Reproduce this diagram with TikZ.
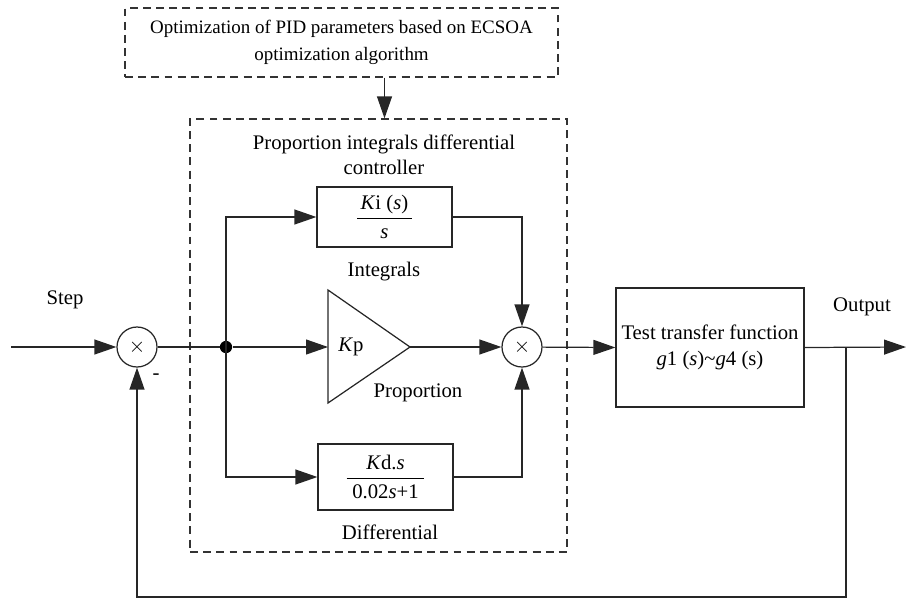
\documentclass[tikz,border=0pt]{standalone}
\usepackage{fontspec}
\setmainfont{Liberation Serif}
\usetikzlibrary{arrows.meta,positioning,calc}

\begin{document}
\begin{tikzpicture}[
			x=0.02cm, y=-0.02cm,
			font=\fontsize{11.8}{14.5}\selectfont,
			>={Triangle[length=12.5pt,width=8.5pt]},
			block/.style={
				rectangle, draw=black!85, line width=0.7pt,
				align=center, inner sep=2pt
			},
			frame/.style={
				rectangle, draw=black!80, line width=0.7pt,
				dash pattern=on 4.5pt off 3pt, inner sep=0pt
			},
			sumnode/.style={
				circle, draw=black!85, line width=0.7pt,
				minimum size=40*0.02cm, inner sep=0pt
			},
			dotnode/.style={circle, fill=black, minimum size=7pt, inner sep=0pt},
			arr/.style={->, line width=0.7pt, black!85},
			ln/.style={line width=0.7pt, black!85},
			lbl/.style={align=center, inner sep=0pt}
			]
			\useasboundingbox (0,0) rectangle (906,599);
			
			%% ── Optimizer on top ─────────────────────────────────────────────
			\node[frame, minimum width=433*0.02cm, minimum height=69*0.02cm, align=center,
				font=\fontsize{10.8}{15}\selectfont] (opt) at (341.5, 42.5) {
				Optimization of PID parameters based on ECSOA\\
				optimization algorithm
			};
			
			%% ── PID controller frame ────────────────────────────────────────
			\node[frame, minimum width=377*0.02cm, minimum height=433*0.02cm] (pid) at (378.5, 335.5) {};
			\node[lbl] (pidtitle) at (384, 155) {
				Proportion integrals differential\\
				controller
			};
			
			\node[block, minimum width=135*0.02cm, minimum height=60*0.02cm] (ki) at (384.5, 217)
				{$\displaystyle\frac{\mbox{\,\textit{K}i (\textit{s})\,}}{\mbox{\textit{s}}}$};
			\node[lbl] (integ) at (384, 272) {Integrals};
			
			% gain triangle
			\coordinate (kpin) at (328, 347);
			\coordinate (kptip) at (410, 347);
			\draw[ln] (328, 290) -- (kptip) -- (328, 403) -- cycle;
			\node[lbl] (kp) at (351, 347) {\textit{K}p};
			\node[lbl] (prop) at (418, 393) {Proportion};
			
			\node[block, minimum width=135*0.02cm, minimum height=66*0.02cm] (kd) at (385.5, 477)
				{$\displaystyle\frac{\mbox{\textit{K}d.\textit{s}}}{\mbox{\;0.02\textit{s}+1\;}}$};
			\node[lbl] (diff) at (390, 532) {Differential};
			
			%% ── Loop ────────────────────────────────────────────────────────
			\coordinate (in) at (11, 347);
			\node[sumnode] (sum1) at (137, 347) {$\times$};
			\node[lbl] (step) at (65, 300) {Step};
			\node[lbl] (minus) at (156, 377) {-};
			\node[dotnode] (split) at (226, 347) {};
			\node[sumnode] (sum2) at (522, 347) {$\times$};
			
			\node[block, minimum width=188*0.02cm, minimum height=119*0.02cm] (plant) at (710, 347.5) {
				Test transfer function\\
				\textit{g}1 (\textit{s})\textasciitilde\textit{g}4 (s)
			};
			\node[lbl] (outlbl) at (862, 307) {Output};
			\coordinate (out) at (906, 347);
			\coordinate (tap) at (846, 347);
			\coordinate (fb) at (846, 597);
			
			%% ── Connections ─────────────────────────────────────────────────
			\draw[arr] (ki |- opt.south) -- (ki |- pid.north);
			\draw[arr] (in) -- (sum1);
			\draw[ln] (sum1) -- (split);
			\draw[arr] (split.center) |- (ki.west);
			\draw[arr] (split) -- (kpin);
			\draw[arr] (split.center) |- (kd.west);
			\draw[arr] (ki.east) -| (sum2.north);
			\draw[arr] (kptip) -- (sum2.west);
			\draw[arr] (kd.east) -| (sum2.south);
			\draw[arr] (sum2) -- (plant.west);
			\draw[arr] (plant.east) -- (out);
			\draw[arr] (tap) -- (fb) -| (sum1.south);
			
		\end{tikzpicture}
\end{document}
